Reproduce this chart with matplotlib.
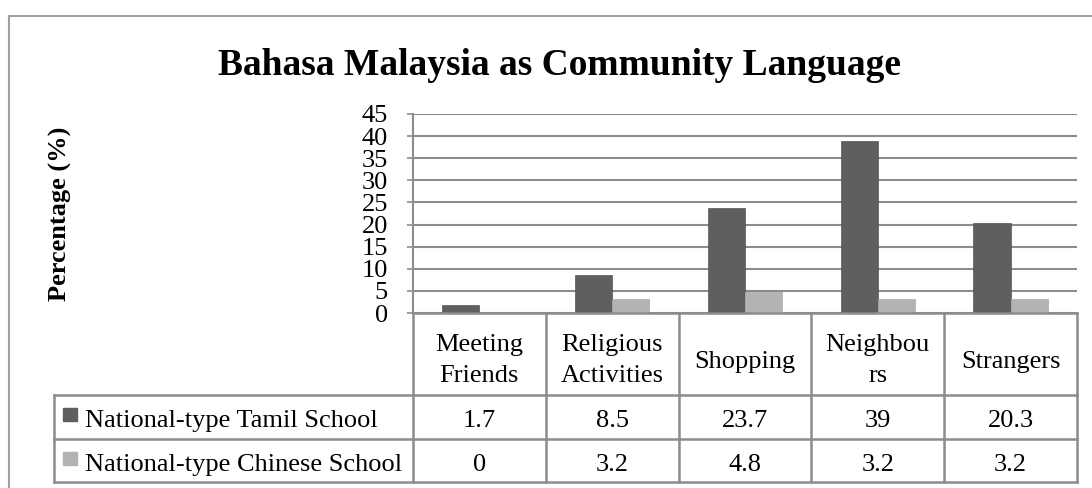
import matplotlib.pyplot as plt
from matplotlib.patches import Rectangle
from matplotlib.lines import Line2D

categories = ['Meeting\nFriends', 'Religious\nActivities', 'Shopping', 'Neighbou\nrs', 'Strangers']
tamil = [1.7, 8.5, 23.7, 39, 20.3]
chinese = [0, 3.2, 4.8, 3.2, 3.2]
tamil_txt = ['1.7', '8.5', '23.7', '39', '20.3']
chinese_txt = ['0', '3.2', '4.8', '3.2', '3.2']
series_names = ['National-type Tamil School', 'National-type Chinese School']
yticks = [0, 5, 10, 15, 20, 25, 30, 35, 40, 45]

dark = '#5f5f5f'
light = '#b3b3b3'
linec = '#8c8c8c'
serif = 'Liberation Serif'

W, H = 1092, 488
fig = plt.figure(figsize=(W / 100, H / 100), dpi=100)


def fx(px):
    return px / W


def fy(py):
    return 1 - py / H


# outer frame
fig.patches.append(Rectangle((fx(9), fy(600)), fx(1200), fy(16) - fy(600), transform=fig.transFigure,
                             fill=False, edgecolor='#a0a0a0', lw=1.5))

ax_left, ax_right, ax_top, ax_bot = 413, 1077, 114, 313
ax = fig.add_axes([fx(ax_left), fy(ax_bot), fx(ax_right - ax_left), fy(ax_top) - fy(ax_bot)])

x = list(range(len(categories)))
bw = 0.28
ax.bar([i - bw / 2 for i in x], tamil, width=bw, color=dark, edgecolor='#555555', lw=0.5, zorder=3)
ax.bar([i + bw / 2 for i in x], chinese, width=bw, color=light, edgecolor='#aaaaaa', lw=0.5, zorder=3)

ax.set_xlim(-0.5, len(categories) - 0.5)
ax.set_ylim(0, 45)
ax.set_yticks(yticks)
ax.set_yticklabels([str(t) for t in yticks], fontfamily=serif, fontsize=19)
ax.tick_params(axis='y', length=4, width=1.2, color=linec, pad=14)
ax.set_xticks([])
for s in ['top', 'right', 'bottom']:
    ax.spines[s].set_visible(False)
ax.spines['left'].set_color(linec)
ax.spines['left'].set_linewidth(1.5)
ax.yaxis.grid(True, color=linec, lw=1.5, zorder=0)
ax.set_axisbelow(True)

fig.text(fx(60), fy(214), 'Percentage (%)', rotation=90, ha='center', va='center',
         fontfamily=serif, fontweight='bold', fontsize=19)
fig.text(fx(559), fy(75), 'Bahasa Malaysia as Community Language', ha='center', va='baseline',
         fontfamily=serif, fontweight='bold', fontsize=27)

# data table below the axes
rows_y = [ax_bot, 395, 439, 482]
row_base = [427, 471]
tab_left = 54


def hline(y0, xa, xb):
    fig.lines.append(Line2D([fx(xa), fx(xb)], [fy(y0), fy(y0)], transform=fig.transFigure,
                            color=linec, lw=1.8))


def vline(xp, ya, yb):
    fig.lines.append(Line2D([fx(xp), fx(xp)], [fy(ya), fy(yb)], transform=fig.transFigure,
                            color=linec, lw=1.8))


hline(ax_bot, ax_left, ax_right)
for yy in rows_y[1:]:
    hline(yy, tab_left, ax_right)
vline(tab_left, rows_y[1], rows_y[3])

# column boundaries follow the category axis
trans = ax.transData
col_edges = [i - 0.5 for i in range(len(categories) + 1)]
for e in col_edges:
    xp = trans.transform((e, 0))[0]
    vline(xp, ax_bot, rows_y[3])

for i, cat in enumerate(categories):
    xp = trans.transform((i, 0))[0]
    lines = cat.split('\n')
    if len(lines) == 1:
        bases = [368]
    else:
        bases = [351, 382]
    for ln, b in zip(lines, bases):
        fig.text(fx(xp), fy(b), ln, ha='center', va='baseline', fontfamily=serif, fontsize=19)
    fig.text(fx(xp), fy(row_base[0]), tamil_txt[i], ha='center', va='baseline',
             fontfamily=serif, fontsize=19)
    fig.text(fx(xp), fy(row_base[1]), chinese_txt[i], ha='center', va='baseline',
             fontfamily=serif, fontsize=19)

for r, (name, col) in enumerate(zip(series_names, [dark, light])):
    b = row_base[r]
    fig.patches.append(Rectangle((fx(63), fy(b - 6)), fx(14), fy(b - 19) - fy(b - 6),
                                 transform=fig.transFigure, color=col))
    fig.text(fx(85), fy(b), name, ha='left', va='baseline', fontfamily=serif, fontsize=19)

fig.savefig('out.png', dpi=100)
